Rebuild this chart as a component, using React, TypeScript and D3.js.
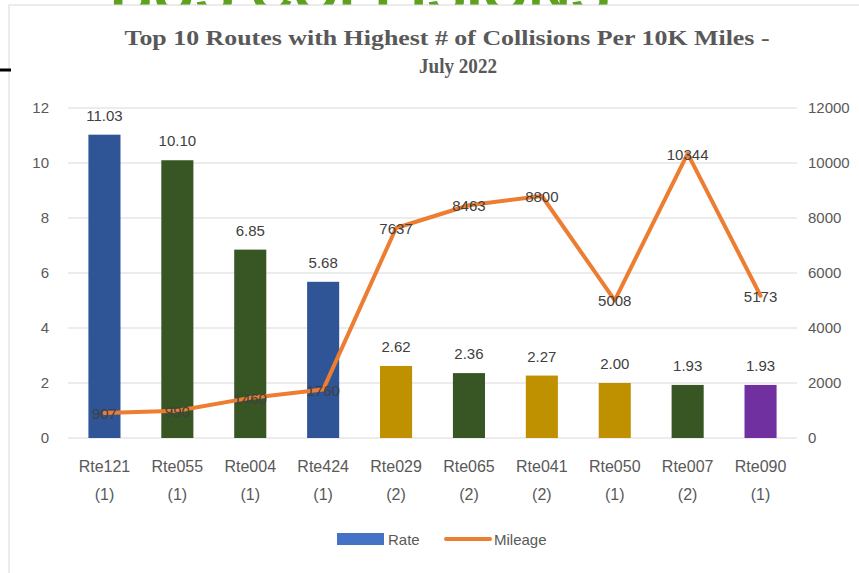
import React from "react";
import * as d3 from "d3";

const routes = ["Rte121", "Rte055", "Rte004", "Rte424", "Rte029", "Rte065", "Rte041", "Rte050", "Rte007", "Rte090"];
const groups = ["(1)", "(1)", "(1)", "(1)", "(2)", "(2)", "(2)", "(1)", "(2)", "(1)"];
const rates = [11.03, 10.1, 6.85, 5.68, 2.62, 2.36, 2.27, 2.0, 1.93, 1.93];
const mileage = [907, 990, 1460, 1760, 7637, 8463, 8800, 5008, 10344, 5173];
const barColors = ["#2F5597", "#375623", "#375623", "#2F5597", "#BF9000", "#375623", "#BF9000", "#BF9000", "#375623", "#7030A0"];
const leftTicks = [0, 2, 4, 6, 8, 10, 12];
const rightTicks = [0, 2000, 4000, 6000, 8000, 10000, 12000];

const W = 859, H = 573;
const L = 68, R = 797, T = 108, B = 438;
const font = "'Liberation Sans', Arial, sans-serif";

export default function App() {
  const x = d3.scaleBand<string>().domain(routes).range([L, R]).paddingInner(0.56).paddingOuter(0.28);
  const yL = d3.scaleLinear().domain([0, 12]).range([B, T]);
  const yR = d3.scaleLinear().domain([0, 12000]).range([B, T]);
  const cx = (i: number) => (x(routes[i]) as number) + x.bandwidth() / 2;
  const line = d3.line<number>().x((_, i) => cx(i)).y((d) => yR(d));

  return (
    <svg width={W} height={H} style={{ position: "absolute", left: 0, top: 0, background: "#fff" }}>
      <text x={360} y={13} textAnchor="middle" fontFamily="'Liberation Sans', Arial" fontWeight="bold" fontSize={60} fill="#5EA11E" textLength={500} lengthAdjust="spacingAndGlyphs">BUS COLLISIONS</text>
      <rect x={9} y={5} width={W} height={H} fill="#fff" stroke="#D9D9D9" />
      <line x1={0} x2={11} y1={70} y2={70} stroke="#000" strokeWidth={3} />
      <text x={447} y={45} textAnchor="middle" fontFamily="'Liberation Serif', serif" fontWeight="bold" fontSize={22} fill="#595959" textLength={645} lengthAdjust="spacingAndGlyphs">Top 10 Routes with Highest # of Collisions Per 10K Miles -</text>
      <text x={458} y={73} textAnchor="middle" fontFamily="'Liberation Serif', serif" fontWeight="bold" fontSize={22} fill="#595959" textLength={78} lengthAdjust="spacingAndGlyphs">July 2022</text>
      {leftTicks.map((t) => (
        <g key={"g" + t}>
          <line x1={L} x2={R} y1={yL(t)} y2={yL(t)} stroke="#D9D9D9" strokeWidth={1} />
          <text x={49} y={yL(t) + 5} textAnchor="end" fontFamily={font} fontSize={15} fill="#595959">{t}</text>
        </g>
      ))}
      {rightTicks.map((t) => (
        <text key={"r" + t} x={808} y={yR(t) + 5} fontFamily={font} fontSize={15} fill="#595959">{t}</text>
      ))}
      {rates.map((v, i) => (
        <g key={"b" + i}>
          <rect x={x(routes[i])} y={yL(v)} width={x.bandwidth()} height={B - yL(v)} fill={barColors[i]} />
          <text x={cx(i)} y={yL(v) - 14} textAnchor="middle" fontFamily={font} fontSize={15} fill="#404040">{v.toFixed(2)}</text>
          <text x={cx(i)} y={472} textAnchor="middle" fontFamily={font} fontSize={16} fill="#595959">{routes[i]}</text>
          <text x={cx(i)} y={500} textAnchor="middle" fontFamily={font} fontSize={16} fill="#595959">{groups[i]}</text>
        </g>
      ))}
      <path d={line(mileage) as string} fill="none" stroke="#ED7D31" strokeWidth={4} strokeLinejoin="round" strokeLinecap="round" />
      {mileage.map((v, i) => (
        <text key={"m" + i} x={cx(i)} y={yR(v) + 6} textAnchor="middle" fontFamily={font} fontSize={15} fill="#404040">{v}</text>
      ))}
      <rect x={337} y={533} width={47} height={12} fill="#4472C4" />
      <text x={388} y={545} fontFamily={font} fontSize={15} fill="#595959">Rate</text>
      <line x1={446} x2={490} y1={539} y2={539} stroke="#ED7D31" strokeWidth={4} strokeLinecap="round" />
      <text x={494} y={545} fontFamily={font} fontSize={15} fill="#595959">Mileage</text>
    </svg>
  );
}
